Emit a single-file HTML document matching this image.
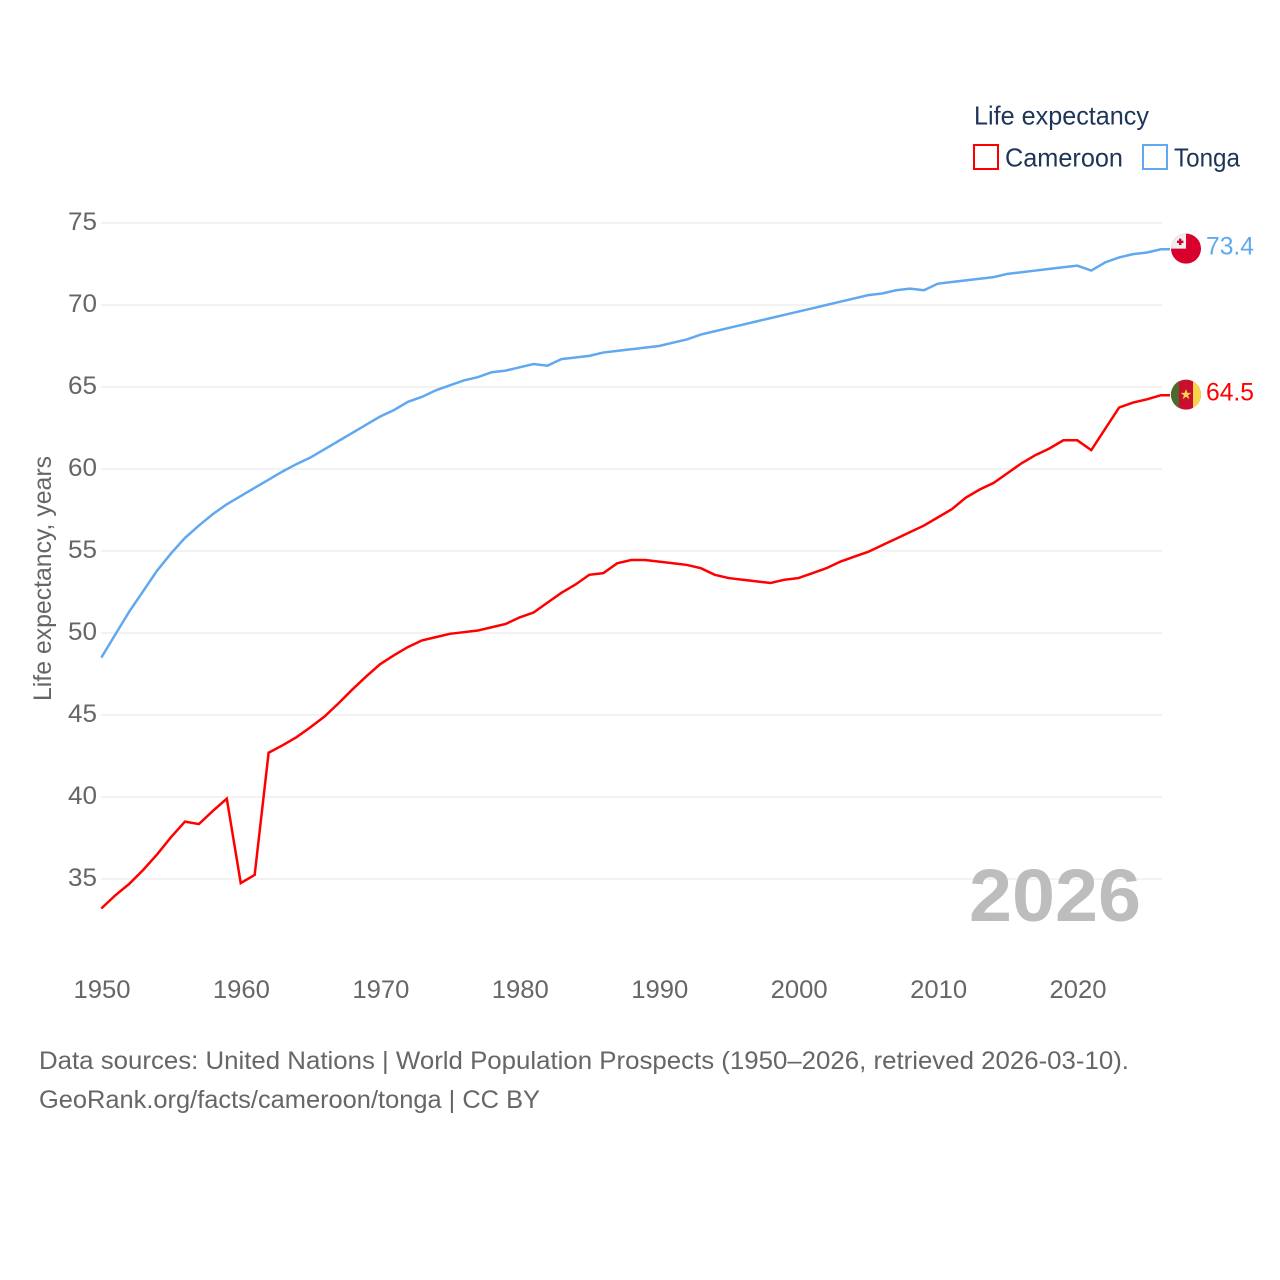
<!DOCTYPE html>
<html lang="en">
<head>
<meta charset="utf-8">
<title>Life expectancy: Cameroon and Tonga</title>
<style>
html,body{margin:0;padding:0;background:#fff;}
svg{display:block;font-family:"Liberation Sans",sans-serif;}
.tick{font-size:25px;fill:#666;}
.src{font-size:25px;fill:#666;}
.leg{font-size:26px;fill:#1d3557;}
</style>
</head>
<body>
<svg id="chart" width="1280" height="1280" viewBox="0 0 1280 1280" xmlns="http://www.w3.org/2000/svg">
  <rect x="0" y="0" width="1280" height="1280" fill="#fff"/>
  <g id="grid"></g>
  <g id="ylabels"></g>
  <g id="xlabels"></g>
  <text class="tick" transform="translate(51,701) rotate(-90)" textLength="245" lengthAdjust="spacingAndGlyphs">Life expectancy, years</text>
  <text x="969" y="921" font-size="74" font-weight="700" fill="#bdbdbd" textLength="172" lengthAdjust="spacingAndGlyphs">2026</text>
  <path id="line-cameroon" fill="none" stroke="#ff0000" stroke-width="2.5" stroke-linejoin="miter"/>
  <path id="line-tonga" fill="none" stroke="#60a8f0" stroke-width="2.5" stroke-linejoin="miter"/>

  <g id="flag-tonga">
    <circle cx="0" cy="0" r="15" fill="#d8002d"/>
    <path d="M0,0 H-15 A15,15 0 0 1 0,-15 Z" fill="#eeeeee"/>
    <rect x="-7" y="-10" width="2.4" height="6.4" fill="#d8002d"/>
    <rect x="-9" y="-8" width="6.4" height="2.4" fill="#d8002d"/>
  </g>
  <g id="flag-cameroon">
    <circle cx="0" cy="0" r="15" fill="#c8102e"/>
    <path d="M-7,-13.3 A15,15 0 0 0 -7,13.3 Z" fill="#4a6b2c"/>
    <path d="M7,-13.3 A15,15 0 0 1 7,13.3 Z" fill="#fcd34d"/>
    <polygon points="0,-5.5 1.4,-1.7 5.3,-1.7 2.1,0.7 3.3,4.5 0,2.2 -3.3,4.5 -2.1,0.7 -5.3,-1.7 -1.4,-1.7" fill="#fcd34d"/>
  </g>
  <text id="value-tonga" x="1206" font-size="25" fill="#60a8f0" textLength="48" lengthAdjust="spacingAndGlyphs"></text>
  <text id="value-cameroon" x="1206" font-size="25" fill="#ff0000" textLength="48" lengthAdjust="spacingAndGlyphs"></text>

  <g>
    <text class="leg" x="974" y="124.5" textLength="175" lengthAdjust="spacingAndGlyphs">Life expectancy</text>
    <g>
      <rect x="974" y="145" width="24" height="24" fill="#fff" stroke="#ff0000" stroke-width="2"/>
      <text class="leg" x="1005" y="166.5" textLength="118" lengthAdjust="spacingAndGlyphs">Cameroon</text>
    </g>
    <g>
      <rect x="1143" y="145" width="24" height="24" fill="#fff" stroke="#60a8f0" stroke-width="2"/>
      <text class="leg" x="1174" y="166.5" textLength="66" lengthAdjust="spacingAndGlyphs">Tonga</text>
    </g>
  </g>

  <text class="src" x="39" y="1069" textLength="1090" lengthAdjust="spacingAndGlyphs">Data sources: United Nations | World Population Prospects (1950–2026, retrieved 2026-03-10).</text>
  <text class="src" x="39" y="1108" textLength="501" lengthAdjust="spacingAndGlyphs">GeoRank.org/facts/cameroon/tonga | CC BY</text>

<script>
const years = [1950,1951,1952,1953,1954,1955,1956,1957,1958,1959,1960,1961,1962,1963,1964,1965,1966,1967,1968,1969,1970,1971,1972,1973,1974,1975,1976,1977,1978,1979,1980,1981,1982,1983,1984,1985,1986,1987,1988,1989,1990,1991,1992,1993,1994,1995,1996,1997,1998,1999,2000,2001,2002,2003,2004,2005,2006,2007,2008,2009,2010,2011,2012,2013,2014,2015,2016,2017,2018,2019,2020,2021,2022,2023,2024,2025,2026];
const cameroon = [33.2,34.0,34.7,35.55,36.5,37.55,38.5,38.35,39.15,39.9,34.75,35.25,42.7,43.15,43.65,44.25,44.9,45.7,46.55,47.35,48.1,48.65,49.15,49.55,49.75,49.95,50.05,50.15,50.35,50.55,50.95,51.25,51.85,52.45,52.95,53.55,53.65,54.25,54.45,54.45,54.35,54.25,54.15,53.95,53.55,53.35,53.25,53.15,53.05,53.25,53.35,53.65,53.95,54.35,54.65,54.95,55.35,55.75,56.15,56.55,57.05,57.55,58.25,58.75,59.15,59.75,60.35,60.85,61.25,61.75,61.75,61.15,62.45,63.75,64.05,64.25,64.5];
const tonga = [48.5,49.9,51.3,52.55,53.8,54.85,55.8,56.55,57.25,57.85,58.35,58.85,59.35,59.85,60.3,60.7,61.2,61.7,62.2,62.7,63.2,63.6,64.1,64.4,64.8,65.1,65.4,65.6,65.9,66.0,66.2,66.4,66.3,66.7,66.8,66.9,67.1,67.2,67.3,67.4,67.5,67.7,67.9,68.2,68.4,68.6,68.8,69.0,69.2,69.4,69.6,69.8,70.0,70.2,70.4,70.6,70.7,70.9,71.0,70.9,71.3,71.4,71.5,71.6,71.7,71.9,72.0,72.1,72.2,72.3,72.4,72.1,72.6,72.9,73.1,73.2,73.4];
const yTicks = [35,40,45,50,55,60,65,70,75];
const xTicks = [1950,1960,1970,1980,1990,2000,2010,2020];

const NS = 'http://www.w3.org/2000/svg';
function xScale(year){ return 101.3 + (year - 1950) * 13.943; }
function yScale(v){ return 879 - (v - 35) * 16.4; }

const grid = document.getElementById('grid');
const ylabels = document.getElementById('ylabels');
const xlabels = document.getElementById('xlabels');

yTicks.forEach(function(t){
  const ln = document.createElementNS(NS, 'line');
  
  
  ln.setAttribute('x1', 101);
  ln.setAttribute('x2', 1162);
  ln.setAttribute('y1', yScale(t));
  ln.setAttribute('y2', yScale(t));
  ln.setAttribute('stroke', '#eeeeee');
  ln.setAttribute('stroke-width', '1.6');
  grid.appendChild(ln);

  const lb = document.createElementNS(NS, 'text');
  
  
  lb.setAttribute('class', 'tick');
  lb.setAttribute('x', 68);
  lb.setAttribute('y', yScale(t) + 7);
  lb.setAttribute('textLength', 29);
  lb.setAttribute('lengthAdjust', 'spacingAndGlyphs');
  lb.textContent = t;
  ylabels.appendChild(lb);
});

xTicks.forEach(function(t){
  const lb = document.createElementNS(NS, 'text');
  
  
  lb.setAttribute('class', 'tick');
  lb.setAttribute('x', xScale(t) - 27.8);
  lb.setAttribute('y', 998);
  lb.setAttribute('textLength', 57);
  lb.setAttribute('lengthAdjust', 'spacingAndGlyphs');
  lb.textContent = t;
  xlabels.appendChild(lb);
});

function linePath(values){
  let d = years.map(function(yr, i){
    return (i ? 'L' : 'M') + xScale(yr).toFixed(2) + ',' + yScale(values[i]).toFixed(2);
  }).join(' ');
  d += ' H1170';
  return d;
}
document.getElementById('line-cameroon').setAttribute('d', linePath(cameroon));
document.getElementById('line-tonga').setAttribute('d', linePath(tonga));

function placeEnd(values, flagId, labelId){
  const last = values[values.length - 1];
  const y = yScale(last);
  document.getElementById(flagId).setAttribute('transform', 'translate(1186,' + (y - 0.6).toFixed(2) + ')');
  const t = document.getElementById(labelId);
  t.setAttribute('y', (y + 5.5).toFixed(2));
  t.textContent = last.toFixed(1);
}
placeEnd(tonga, 'flag-tonga', 'value-tonga');
placeEnd(cameroon, 'flag-cameroon', 'value-cameroon');
</script>
</svg>
</body>
</html>
